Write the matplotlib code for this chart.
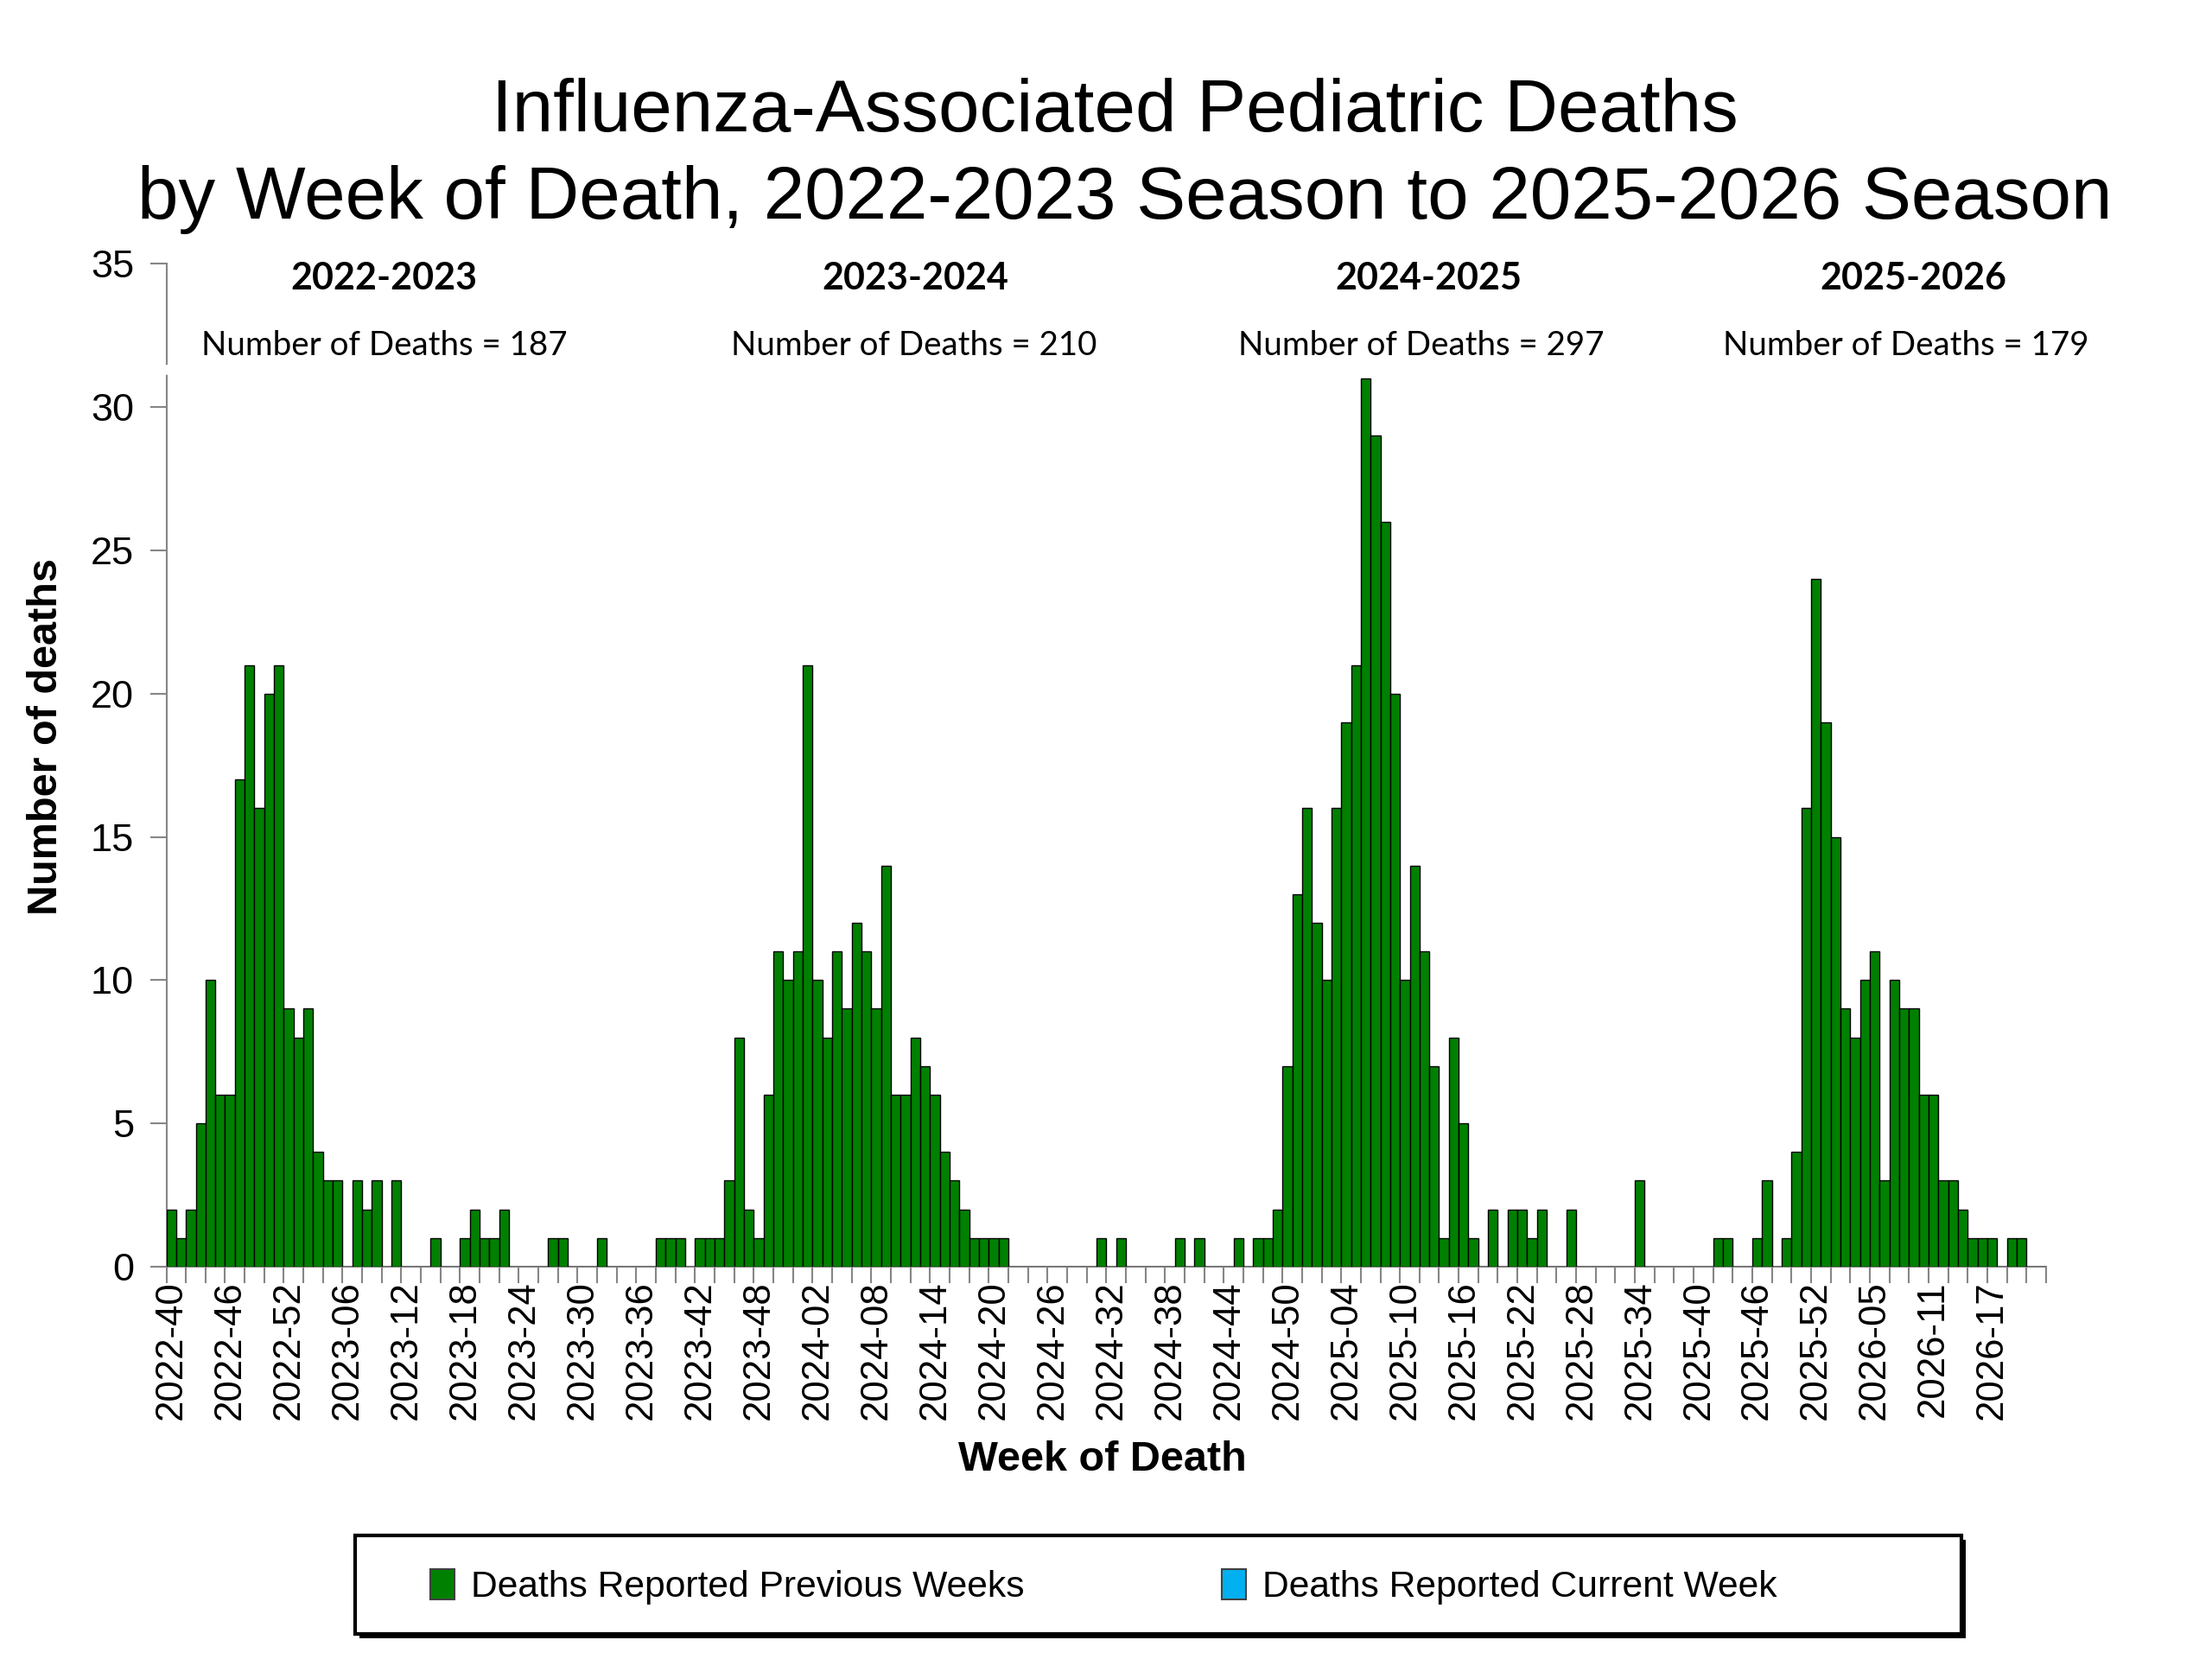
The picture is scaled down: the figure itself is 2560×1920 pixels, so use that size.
import numpy as np
import matplotlib
matplotlib.use('Agg')
import matplotlib.pyplot as plt
from matplotlib.patches import Patch, Rectangle

plt.rcParams['font.family'] = ['Liberation Sans', 'DejaVu Sans']

# MMWR weeks on the axis: (year, first week, last week)
year_weeks = [(2022, 40, 52), (2023, 1, 52), (2024, 1, 52), (2025, 1, 53), (2026, 1, 22)]

# weekly deaths per season (week 40 -> week 39)
season_2022_23 = [2, 1, 2, 5, 10, 6, 6, 17, 21, 16, 20, 21, 9, 8, 9, 4, 3, 3, 0, 3,
                  2, 3, 0, 3, 0, 0, 0, 1, 0, 0, 1, 2, 1, 1, 2, 0, 0, 0, 0, 1,
                  1, 0, 0, 0, 1, 0, 0, 0, 0, 0, 1, 1]
season_2023_24 = [1, 0, 1, 1, 1, 3, 8, 2, 1, 6, 11, 10, 11, 21, 10, 8, 11, 9, 12, 11,
                  9, 14, 6, 6, 8, 7, 6, 4, 3, 2, 1, 1, 1, 1, 0, 0, 0, 0, 0, 0,
                  0, 0, 0, 1, 0, 1, 0, 0, 0, 0, 0, 1]
season_2024_25 = [0, 1, 0, 0, 0, 1, 0, 1, 1, 2, 7, 13, 16, 12, 10, 16, 19, 21, 31, 29,
                  26, 20, 10, 14, 11, 7, 1, 8, 5, 1, 0, 2, 0, 2, 2, 1, 2, 0, 0, 2,
                  0, 0, 0, 0, 0, 0, 3, 0, 0, 0, 0, 0]
season_2025_26 = [0, 0, 1, 1, 0, 0, 1, 3, 0, 1, 4, 16, 24, 19, 15, 9, 8, 10, 11, 3,
                  10, 9, 9, 6, 6, 3, 3, 2, 1, 1, 1, 0, 1, 1, 0, 0]

season_names = ['2022-2023', '2023-2024', '2024-2025', '2025-2026']
season_totals = [187, 210, 297, 179]
season_label_x = [21.7, 76.0, 128.4, 177.9]   # category position of the header text
total_label_x = [21.8, 75.9, 127.7, 177.2]

tick_every = 6

weeks = [f'{y}-{w:02d}' for y, w0, w1 in year_weeks for w in range(w0, w1 + 1)]
deaths = season_2022_23 + season_2023_24 + season_2024_25 + season_2025_26
x = np.arange(len(weeks))

fig = plt.figure(figsize=(25.6, 19.2), dpi=100)
ax = fig.add_axes([0.0752, 0.2365, 0.925 - 0.0752, 0.841 - 0.2365])

green = '#008000'
blue = '#00B0F0'
axis_gray = '#868686'

ax.bar(x, deaths, width=1.0, color=green, edgecolor='black', linewidth=1.0, zorder=3)

ax.set_xlim(-0.5, len(weeks) - 0.5)
ax.set_ylim(0, 35)
ax.set_yticks(range(0, 36, 5))

# labels every 6 weeks, tick marks between every 2 weeks
ax.set_xticks(x[::tick_every])
ax.set_xticklabels(weeks[::tick_every], rotation=90, fontsize=31.5)
ax.set_xticks(np.arange(-0.5, len(weeks), 2), minor=True)
ax.tick_params(axis='x', which='major', length=0, pad=12)
ax.tick_params(axis='x', which='minor', length=14, width=1.5, color=axis_gray)
ax.tick_params(axis='y', length=14, width=1.5, color=axis_gray, labelsize=32.5, pad=13)

for s in ['top', 'right']:
    ax.spines[s].set_visible(False)
for s in ['left', 'bottom']:
    ax.spines[s].set_color(axis_gray)
    ax.spines[s].set_linewidth(1.5)

# small break in the y axis left by the text box
ax.plot([-0.5, -0.5], [31.2, 31.4], color='white', lw=4, clip_on=False, zorder=10)

for name, total, sx, tx in zip(season_names, season_totals, season_label_x, total_label_x):
    ax.text(sx, 34.1, name, ha='center', va='baseline', fontsize=31,
            fontweight='bold', family=['Lato', 'DejaVu Sans'])
    ax.text(tx, 31.8, f'Number of Deaths = {total}', ha='center', va='baseline',
            fontsize=27.7, family=['Lato', 'DejaVu Sans'])

fig.text(0.504, 0.9208, 'Influenza-Associated Pediatric Deaths', ha='center',
         va='baseline', fontsize=61.5)
fig.text(0.5085, 0.8682, 'by Week of Death, 2022-2023 Season to 2025-2026 Season',
         ha='center', va='baseline', fontsize=61.5)

fig.text(0.021, 0.556, 'Number of deaths', rotation=90, ha='center', va='center',
         fontsize=35, fontweight='bold')
fig.text(0.4985, 0.1198, 'Week of Death', ha='center', va='center',
         fontsize=35, fontweight='bold')

# legend box with a drop shadow
fig.patches.append(Rectangle((0.1607 + 0.0018, 0.0151 - 0.0024), 0.726, 0.0594,
                             transform=fig.transFigure, facecolor='black',
                             edgecolor='black', lw=0, zorder=1))
fig.patches.append(Rectangle((0.1607, 0.0151), 0.726, 0.0594,
                             transform=fig.transFigure, facecolor='white',
                             edgecolor='black', lw=3, zorder=2))

handles = [Patch(facecolor=green, edgecolor='#404040', linewidth=1.5),
           Patch(facecolor=blue, edgecolor='#404040', linewidth=1.5)]
leg = fig.legend(handles, ['Deaths Reported Previous Weeks', 'Deaths Reported Current Week'],
                 loc='center left', bbox_to_anchor=(0.1862, 0.0435), ncol=2,
                 frameon=False, fontsize=30.7, borderpad=0, handlelength=0.66,
                 handleheight=0.88, handletextpad=0.45, columnspacing=5.35)
leg.set_zorder(5)

fig.savefig('out.png', dpi=100)
